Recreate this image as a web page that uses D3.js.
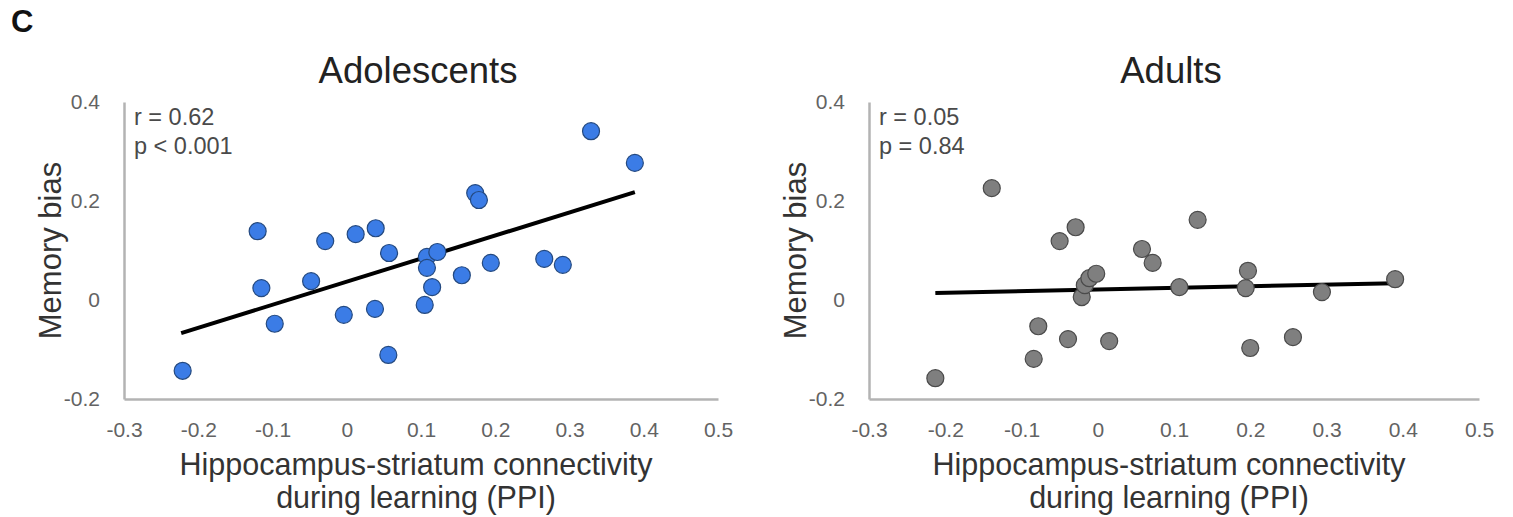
<!DOCTYPE html>
<html>
<head>
<meta charset="utf-8">
<script src="https://cdn.jsdelivr.net/npm/d3@7"></script>
<style>
  body { margin: 0; background: #fff; }
  text { font-family: "Liberation Sans", Arial, Helvetica, sans-serif; }
</style>
</head>
<body>
<svg id="chart" width="1513" height="517"></svg>
<script>
// values
var xTicks = [-0.3, -0.2, -0.1, 0, 0.1, 0.2, 0.3, 0.4, 0.5];
var yTicks = [-0.2, 0, 0.2, 0.4];

var adolX = [-0.120, -0.115, -0.097, -0.048, -0.029, -0.004, 0.012, 0.039, 0.038, 0.057,
             0.056, 0.105, 0.108, 0.122, 0.108, 0.115, 0.155, 0.173, 0.178, 0.194,
             0.266, 0.291, 0.329, 0.388, -0.221];
var adolY = [0.139, 0.024, -0.048, 0.038, 0.119, -0.030, 0.133, 0.145, -0.018, 0.095,
             -0.111, -0.010, 0.087, 0.097, 0.065, 0.026, 0.050, 0.216, 0.202, 0.075,
             0.083, 0.071, 0.341, 0.277, -0.143];
var adolFitX = [-0.223, 0.388];
var adolFitY = [-0.067, 0.218];

var adultX = [-0.213, -0.139, -0.084, -0.078, -0.050, -0.029, -0.039, -0.021, -0.017, -0.011,
              -0.002, 0.015, 0.058, 0.072, 0.107, 0.131, 0.194, 0.197, 0.200, 0.256,
              0.294, 0.390];
var adultY = [-0.158, 0.226, -0.119, -0.053, 0.119, 0.147, -0.079, 0.006, 0.030, 0.044,
              0.053, -0.083, 0.103, 0.075, 0.026, 0.162, 0.024, 0.059, -0.097, -0.075,
              0.016, 0.042];
var adultFitX = [-0.213, 0.390];
var adultFitY = [0.014, 0.034];

var panels = [
  { title: "Adolescents", x: adolX, y: adolY, fitX: adolFitX, fitY: adolFitY,
    stats: ["r = 0.62", "p < 0.001"], left: 124, right: 718,
    fill: "#3b7ce6", stroke: "#24497f" },
  { title: "Adults", x: adultX, y: adultY, fitX: adultFitX, fitY: adultFitY,
    stats: ["r = 0.05", "p = 0.84"], left: 869, right: 1479,
    fill: "#7f7f7f", stroke: "#4a4a4a" }
];

var svg = d3.select("#chart");
var plotTop = 102, plotBottom = 399;

function fmt(d) { return String(+d.toFixed(1)); }

svg.append("text")
  .attr("x", 11).attr("y", 32)
  .attr("font-size", 31).attr("font-weight", "bold").attr("fill", "#111")
  .text("C");

function drawPanel(p) {
  var x = d3.scaleLinear().domain([-0.3, 0.5]).range([p.left, p.right]);
  var y = d3.scaleLinear().domain([-0.2, 0.4]).range([plotBottom, plotTop]);
  var g = svg.append("g");

  var xAxis = g.append("g")
    .attr("transform", "translate(0," + plotBottom + ")")
    .call(d3.axisBottom(x).tickValues(xTicks).tickSize(0).tickPadding(23).tickFormat(fmt));
  var yAxis = g.append("g")
    .attr("transform", "translate(" + p.left + ",0)")
    .call(d3.axisLeft(y).tickValues(yTicks).tickSize(0).tickPadding(24).tickFormat(fmt));

  [xAxis, yAxis].forEach(function(a) {
    a.select(".domain").attr("stroke", "#b3b3b3").attr("stroke-width", 2.5);
    a.selectAll("text").attr("font-size", 21).attr("fill", "#636363")
      .attr("font-family", "Liberation Sans, Arial, sans-serif");
  });

  // regression line
  var fit = p.fitX.map(function(d, i) { return [d, p.fitY[i]]; });
  g.append("path")
    .datum(fit)
    .attr("d", d3.line().x(function(d) { return x(d[0]); }).y(function(d) { return y(d[1]); }))
    .attr("stroke", "#000").attr("stroke-width", 4).attr("fill", "none");

  var pts = p.x.map(function(d, i) { return { x: d, y: p.y[i] }; });
  g.selectAll("circle")
    .data(pts)
    .enter().append("circle")
    .attr("cx", function(d) { return x(d.x); })
    .attr("cy", function(d) { return y(d.y); })
    .attr("r", 8.5)
    .attr("fill", p.fill)
    .attr("stroke", p.stroke)
    .attr("stroke-width", 1.2);

  p.stats.forEach(function(s, i) {
    g.append("text")
      .attr("x", p.left + 10).attr("y", 125 + i * 29)
      .attr("font-size", 23.5).attr("fill", "#4a4a4a")
      .text(s);
  });

  var cx = (p.left + p.right) / 2;
  g.append("text")
    .attr("x", cx - 3).attr("y", 83)
    .attr("text-anchor", "middle").attr("font-size", 36.5).attr("fill", "#222")
    .text(p.title);

  g.append("text")
    .attr("transform", "translate(" + (p.left - 63) + "," + ((plotTop + plotBottom) / 2) + ") rotate(-90)")
    .attr("text-anchor", "middle").attr("font-size", 31).attr("fill", "#333")
    .text("Memory bias");

  g.append("text")
    .attr("x", cx - 5).attr("y", 475)
    .attr("text-anchor", "middle").attr("font-size", 30.5).attr("fill", "#333")
    .text("Hippocampus-striatum connectivity");
  g.append("text")
    .attr("x", cx - 5).attr("y", 508)
    .attr("text-anchor", "middle").attr("font-size", 30.5).attr("fill", "#333")
    .text("during learning (PPI)");
}

panels.forEach(drawPanel);
</script>
</body>
</html>
